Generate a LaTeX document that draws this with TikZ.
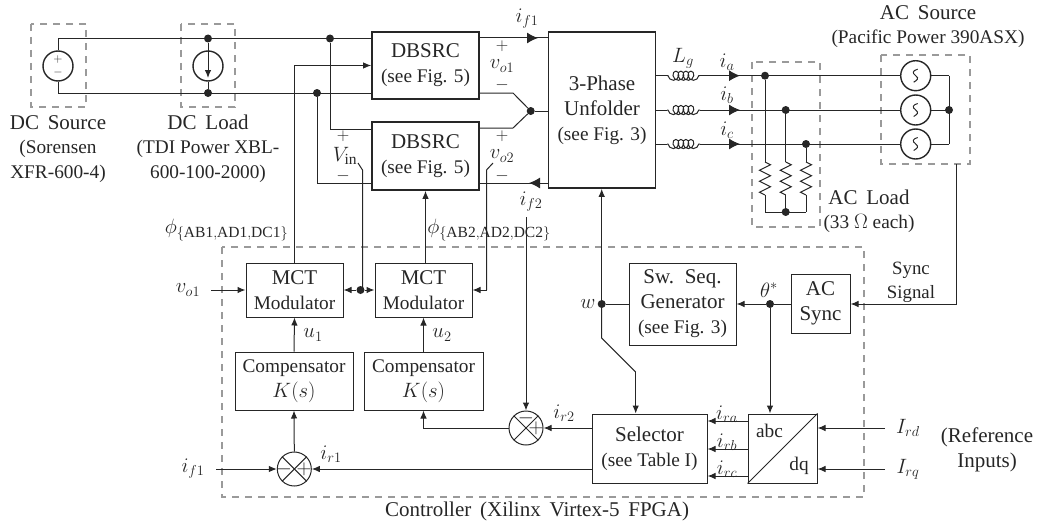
\documentclass[tikz,border=0pt]{standalone}
\usepackage{fontspec}
\setmainfont{Liberation Serif}
\usetikzlibrary{arrows.meta,decorations.pathmorphing}
\definecolor{inkcol}{HTML}{262626}
\definecolor{dashcol}{HTML}{9A9A9A}
\DeclareMathSizes{21}{21}{15.5}{13}
\newcommand{\bigtxt}{\fontsize{21}{25}\selectfont\spaceskip=0.42em}
\newcommand{\subtxt}{\fontsize{19.3}{25}\selectfont\spaceskip=0.25em}
\tikzstyle{wire} = [line width=1pt,color=inkcol]
\tikzstyle{sig} = [wire,-{Latex[length=8pt,width=6.5pt]}]
\tikzstyle{flow} = [wire,-{Latex[length=11pt,width=11pt]}]
\tikzstyle{wdot} = [circle,fill=inkcol,inner sep=0pt,minimum size=8pt]
\tikzstyle{dashbox} = [line width=1.4pt,color=dashcol,dash pattern=on 7pt off 6pt]
\tikzstyle{pblock} = [draw=inkcol,line width=1.7pt,inner sep=0pt,align=center,font=\bigtxt,text=inkcol]
\tikzstyle{cblock} = [draw=inkcol,line width=1pt,inner sep=0pt,align=center,font=\bigtxt,text=inkcol]
\tikzstyle{lbl} = [inner sep=0pt,align=center,font=\subtxt,text=inkcol]
\tikzstyle{biglbl} = [inner sep=0pt,align=center,font=\bigtxt,text=inkcol]
\tikzstyle{pmlbl} = [inner sep=0pt,font=\fontsize{17}{17}\selectfont,text=inkcol]
\tikzstyle{ring} = [circle,draw=inkcol,line width=1.4pt,inner sep=0pt,minimum size=30pt]
\tikzstyle{sumring} = [circle,draw=inkcol,line width=1pt,inner sep=0pt,minimum size=34pt]
\tikzstyle{coil} = [wire,decorate,decoration={coil,aspect=0.9,segment length=5pt,amplitude=4.6pt,mirror,pre length=1pt,post length=1pt}]
\tikzstyle{rzig} = [wire,decorate,decoration={zigzag,segment length=11pt,amplitude=5.5pt}]
\newcommand{\junction}[2]{
	\node(#1) at (#2) [wdot] {};
}
\newcommand{\sumjoint}[2]{
	\node(#1) at (#2) [sumring] {};
	\draw[wire] (#1.north west) -- (#1.south east);
	\draw[wire] (#1.north east) -- (#1.south west);
}
\newcommand{\acring}[2]{
	\node(#1) at (915.7,#2) [ring] {};
	\draw[wire] ([shift={(2,-6.5)}]#1.center) .. controls +(-5,1.5) and +(-4,-3) .. (#1.center) .. controls +(4,3) and +(3,-2) .. ([shift={(-2,6.5)}]#1.center);
}
\newcommand{\lgphase}[2]{
	\coordinate(#1w) at (667,#2);
	\coordinate(#1e) at (700,#2);
	\coordinate(#1tip) at (740,#2);
	\draw[wire] (unf.east |- #1w) -- (#1w);
	\draw[coil] (#1w) -- (#1e);
	\draw[wire] (#1e) -- (#1.west);
	\draw[flow] (#1e) -- (#1tip);
	\draw[wire] (#1.east) -- (949,#2);
}
\newcommand{\loadleg}[2]{
	\coordinate(#1top) at (#2,162);
	\coordinate(#1bot) at (#2,195);
	\coordinate(#1end) at (#2,212);
	\draw[wire] (#1) -- (#1top);
	\draw[rzig] (#1top) -- (#1bot);
	\draw[wire] (#1bot) -- (#1end);
}

\begin{document}
\begin{tikzpicture}[x=1pt,y=-1pt]
	\useasboundingbox (0,0) rectangle (1038,527);

	% dashed outlines
	\draw[dashbox] (31,24) rectangle (86,107);
	\draw[dashbox] (181,24) rectangle (235,107);
	\draw[dashbox] (752,62) rectangle (820,227);
	\draw[dashbox] (881,55) rectangle (970,164);
	\draw[dashbox] (222,247) rectangle (864,497);

	% power stage
	\node(dbsrc1) at (425.5,65.5) [pblock,minimum width=107pt,minimum height=67pt] {DBSRC\\{\subtxt (see Fig. 5)}};
	\node(dbsrc2) at (425.5,156) [pblock,minimum width=107pt,minimum height=68pt] {DBSRC\\{\subtxt (see Fig. 5)}};
	\node(unf) at (602,110) [pblock,minimum width=107pt,minimum height=156pt] {3-Phase\\Unfolder\\{\subtxt (see Fig. 3)}};

	\node(dcsrc) at (58,66) [ring] {};
	\node(dcplus) at (58,60) [lbl,font=\fontsize{13}{13}\selectfont] {$+$};
	\node(dcminus) at (58,72) [lbl,font=\fontsize{13}{13}\selectfont] {$-$};
	\node(dcload) at (208,66) [ring] {};
	\coordinate(dctip) at (208,78);
	\draw[sig] (dcload.north) -- (dctip);
	\junction{loadtop}{208,38.5};
	\junction{loadbot}{208,93};
	\junction{vplus}{330,38.5};
	\junction{vminus}{317,93};
	\coordinate(railtop) at (58,38.5);
	\coordinate(railbot) at (58,93);
	\coordinate(dbsrc2up) at (372,129);
	\coordinate(dbsrc2dn) at (372,183);
	\draw[wire] (dcsrc.north) -- (railtop) -- (dbsrc1.west |- railtop);
	\draw[wire] (dcsrc.south) -- (railbot) -- (dbsrc1.west |- railbot);
	\draw[wire] (loadtop) -- (dcload.north);
	\draw[wire] (dcload.south) -- (loadbot);
	\draw[wire] (vplus) |- (dbsrc2up);
	\draw[wire] (vminus) |- (dbsrc2dn);

	% outputs of the two converters
	\junction{midpt}{530.7,111};
	\coordinate(ifa) at (479,38);
	\coordinate(ifb) at (538,38);
	\coordinate(ifc) at (549,183);
	\coordinate(ifd) at (529,183);
	\draw[wire] (ifa) -- (unf.west |- ifa);
	\draw[flow] (ifa) -- (ifb);
	\draw[wire] (ifc) -- (dbsrc2.east |- ifc);
	\draw[flow] (ifc) -- (ifd);
	\draw[wire] (dbsrc1.east |- 0,93) -- (513,93) -- (midpt);
	\draw[wire] (dbsrc2.east |- 0,128) -- (513,128) -- (midpt);
	\draw[wire] (midpt) -- (unf.west |- midpt);

	% ac side
	\acring{acra}{75.7}
	\acring{acrb}{110}
	\acring{acrc}{144}
	\lgphase{acra}{75.7}
	\lgphase{acrb}{110}
	\lgphase{acrc}{144}
	\junction{acn}{949,110};
	\draw[wire] (949,75.7) -- (949,144);
	\junction{loada}{765,75.7};
	\junction{loadb}{785.7,110};
	\junction{loadc}{806,144};
	\loadleg{loada}{765};
	\loadleg{loadb}{785.7};
	\loadleg{loadc}{806};
	\draw[wire] (loadaend) -- (loadcend);
	\junction{loadn}{785.7,212};

	% controller
	\node(mct1) at (294.5,290) [cblock,minimum width=97pt,minimum height=54pt] {MCT\\{\subtxt Modulator}};
	\node(mct2) at (423.5,290) [cblock,minimum width=97pt,minimum height=54pt] {MCT\\{\subtxt Modulator}};
	\node(comp1) at (294,381) [cblock,minimum width=118pt,minimum height=58pt,font=\subtxt] {Compensator\\$K(s)$};
	\node(comp2) at (423.5,381) [cblock,minimum width=119pt,minimum height=58pt,font=\subtxt] {Compensator\\$K(s)$};
	\sumjoint{sum1}{294.3,469};
	\sumjoint{sum2}{526,428};
	\node(sel) at (649.5,448.5) [cblock,minimum width=115pt,minimum height=69pt] {Selector\\{\subtxt (see Table I)}};
	\node(abc) at (782.5,448.5) [cblock,minimum width=69pt,minimum height=69pt] {};
	\draw[wire] (abc.south west) -- (abc.north east);
	\node(swseq) at (682.5,304) [cblock,minimum width=107pt,minimum height=82pt] {Sw. Seq.\\Generator\\{\subtxt (see Fig. 3)}};
	\node(acsync) at (820.5,303.5) [cblock,minimum width=59pt,minimum height=59pt] {AC\\Sync};

	\junction{mctdot}{360.5,290};
	\junction{thetadot}{770,304};
	\junction{wdotn}{601.7,304};

	\coordinate(vo1in) at (211,290);
	\coordinate(if1in) at (216,469);
	\draw[sig] (vo1in) -- (mct1.west);
	\draw[sig] (if1in) -- (sum1.west);
	\draw[sig] (mct1.north) |- (dbsrc1.west);
	\draw[sig] (mct2.north -| dbsrc2.south) -- (dbsrc2.south);
	\draw[sig] (comp1.north) -- (mct1.south);
	\draw[sig] (comp2.north) -- (mct2.south);
	\draw[sig] (sum1.north) -- (comp1.south);
	\draw[sig] (sum2.west) -| (comp2.south);
	\draw[sig] (mctdot) -- (mct1.east);
	\draw[sig] (mctdot) -- (mct2.west);
	\draw[sig] (sel.west |- sum1.east) -- (sum1.east);
	\draw[sig] (sel.west |- sum2.east) -- (sum2.east);

	% measured signals going down to the controller
	\coordinate(vinend) at (358,163);
	\coordinate(vinbend) at (362.5,170);
	\draw[wire] (vinend) -- (vinbend) -- (vinbend |- mctdot);
	\coordinate(vo2end) at (493,163);
	\coordinate(vo2bend) at (486.5,170);
	\coordinate(vo2down) at (486.5,290);
	\draw[wire] (vo2end) -- (vo2bend) -- (vo2down);
	\draw[sig] (vo2down) -- (mct2.east);
	\coordinate(if2end) at (526,217);
	\draw[sig] (if2end) -- (sum2.north);

	% switching sequence
	\coordinate(wbenda) at (601.7,338);
	\coordinate(wbendb) at (635.7,372);
	\draw[sig] (wdotn) -- (wbenda |- unf.south);
	\draw[wire] (wdotn) -- (wbenda) -- (wbendb);
	\draw[sig] (wbendb) -- (wbendb |- sel.north);
	\draw[wire] (swseq.west) -- (wdotn);
	\draw[wire] (acsync.west |- thetadot) -- (thetadot);
	\draw[sig] (thetadot) -- (swseq.east);
	\draw[sig] (thetadot) -- (thetadot |- abc.north);
	\coordinate(syncup) at (956.5,164);
	\draw[sig] (syncup) |- (acsync.east |- thetadot);

	% references
	\coordinate(irdin) at (885,428);
	\coordinate(irqin) at (885,469);
	\draw[sig] (irdin) -- (abc.east |- irdin);
	\draw[sig] (irqin) -- (abc.east |- irqin);
	\coordinate(irarow) at (0,421);
	\coordinate(irbrow) at (0,449);
	\coordinate(ircrow) at (0,476);
	\draw[sig] (abc.west |- irarow) -- (sel.east |- irarow);
	\draw[sig] (abc.west |- irbrow) -- (sel.east |- irbrow);
	\draw[sig] (abc.west |- ircrow) -- (sel.east |- ircrow);

	% texts
	\node(dcsrctxt) at (58,149) [lbl] {\bigtxt DC Source\\[-1pt]\subtxt (Sorensen\\XFR-600-4)};
	\node(dcloadtxt) at (208,149) [lbl] {\bigtxt DC Load\\[-1pt]\subtxt (TDI Power XBL-\\600-100-2000)};
	\node(acsrctxt) at (928,26.5) [lbl] {\bigtxt AC Source\\[-1pt]\subtxt (Pacific Power 390ASX)};
	\node(acloadtxt) at (869,211) [lbl] {\bigtxt AC Load\\[-1pt]\subtxt (33 $\Omega$ each)};
	\node(ctrltxt) at (537,511) [biglbl] {Controller (Xilinx Virtex-5 FPGA)};
	\node(synctxt) at (911,282.5) [lbl,font=\fontsize{18.8}{23.5}\selectfont] {Sync\\Signal};
	\node(reftxt) at (987,450) [lbl] {\bigtxt (Reference\\\bigtxt Inputs)};
	\node(abctxt) at (769.5,431) [lbl] {abc};
	\node(dqtxt) at (799,466) [lbl] {dq};

	\node(lif1) at (527,19) [biglbl] {$i_{f1}$};
	\node(lif2) at (531,202) [biglbl] {$i_{f2}$};
	\node(lvo1a) at (502,46) [pmlbl] {$+$};
	\node(lvo1) at (502,66) [biglbl] {$v_{o1}$};
	\node(lvo1b) at (502,85) [pmlbl] {$-$};
	\node(lvo2a) at (502,136) [pmlbl] {$+$};
	\node(lvo2) at (502,156) [biglbl] {$v_{o2}$};
	\node(lvo2b) at (502,176) [pmlbl] {$-$};
	\node(lvina) at (343,136) [pmlbl] {$+$};
	\node(lvin) at (345,156) [biglbl] {$V_{\mathrm{in}}$};
	\node(lvinb) at (343,176) [pmlbl] {$-$};
	\node(lphi1) at (226.5,230) [biglbl] {$\phi_{\{\mathrm{AB1,AD1,DC1}\}}$};
	\node(lphi2) at (489,230) [biglbl] {$\phi_{\{\mathrm{AB2,AD2,DC2}\}}$};
	\node(lg) at (683,58) [biglbl] {$L_g$};
	\node(lia) at (727,62) [biglbl] {$i_a$};
	\node(lib) at (727,95) [biglbl] {$i_b$};
	\node(lic) at (727,130) [biglbl] {$i_c$};
	\node(lvoin) at (188,290) [biglbl] {$v_{o1}$};
	\node(lifin) at (193,469) [biglbl] {$i_{f1}$};
	\node(lu1) at (313,335) [biglbl] {$u_1$};
	\node(lu2) at (442,335) [biglbl] {$u_2$};
	\node(lir1) at (331,454) [biglbl] {$i_{r1}$};
	\node(lir2) at (564,413) [biglbl] {$i_{r2}$};
	\node(lw) at (588,304) [biglbl] {$w$};
	\node(ltheta) at (769,290) [biglbl] {$\theta^{*}$};
	\node(lira) at (727,414) [biglbl] {$i_{ra}$};
	\node(lirb) at (727,442) [biglbl] {$i_{rb}$};
	\node(lirc) at (727,469) [biglbl] {$i_{rc}$};
	\node(lird) at (908,428) [biglbl] {$I_{rd}$};
	\node(lirq) at (908,469) [biglbl] {$I_{rq}$};
	\node(s1minus) at (284,469) [lbl] {$-$};
	\node(s1plus) at (304,469) [lbl] {$+$};
	\node(s2minus) at (526,418) [lbl] {$-$};
	\node(s2plus) at (536,428) [lbl] {$+$};
\end{tikzpicture}
\end{document}
